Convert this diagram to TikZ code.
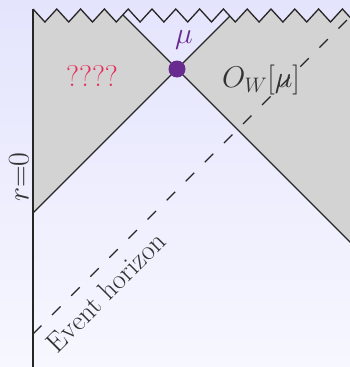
\RequirePackage{fix-cm}
\documentclass[tikz,border=0pt]{standalone}
\usepackage{fontspec}
\usetikzlibrary{calc}
\definecolor{bgtop}{RGB}{228,228,253}
\definecolor{bgbot}{RGB}{247,247,255}
\definecolor{regiongray}{RGB}{211,211,211}
\definecolor{mupurple}{RGB}{104,44,145}
\definecolor{qred}{RGB}{232,44,88}
\definecolor{txtgray}{RGB}{50,50,50}
\tikzset{
  bound/.style={line width=1.3pt, black!85},
  horizon/.style={line width=1.1pt, black!85, dash pattern=on 12pt off 15pt},
  bigtext/.style={font=\fontsize{30}{32}\selectfont, text=txtgray, inner sep=0pt},
}
\begin{document}
\begin{tikzpicture}[x=1pt,y=-1pt]
\useasboundingbox (0,0) rectangle (350,367);
\shade[top color=bgtop, bottom color=bgbot] (0,0) rectangle (350,367);
% gray regions clipped below the zigzag
\begin{scope}
  \clip (33,9) \foreach \i in {1,...,28} { -- ({33+\i*11.9},{ifthenelse(isodd(\i),22,9)}) } -- (400,400) -- (33,400) -- cycle;
  \fill[regiongray] (33,-10) -- (33,213) -- (177,69) -- (98,-10) -- cycle;
  \fill[regiongray] (177,69) -- (256,-10) -- (360,-10) -- (360,252) -- cycle;
  \draw[bound] (33,213) -- (177,69) -- (256,-10);
  \draw[bound] (98,-10) -- (177,69) -- (360,252);
\end{scope}
\draw[bound] (33,9) \foreach \i in {1,...,28} { -- ({33+\i*11.9},{ifthenelse(isodd(\i),22,9)}) };
\draw[bound] (33,9) -- (33,370);
\coordinate (hA) at (33,334);
\coordinate (hB) at (355,12);
\draw[horizon] (hA) -- (hB);
\fill[mupurple] (177,69) circle (8.5);
\node[bigtext, text=mupurple] (mu) at (184,40) {$\mu$};
\node[bigtext, text=qred] (qq) at (92,76) {????};
\node[bigtext] (ow) at (261,80) {$O_{W}[\mu]$};
\node[bigtext, rotate=90] (r0) at (19,177) {$r{=}0$};
\node[bigtext, rotate=45, font=\fontsize{28}{30}\selectfont] (eh) at (106,292) {Event horizon};
\end{tikzpicture}
\end{document}
